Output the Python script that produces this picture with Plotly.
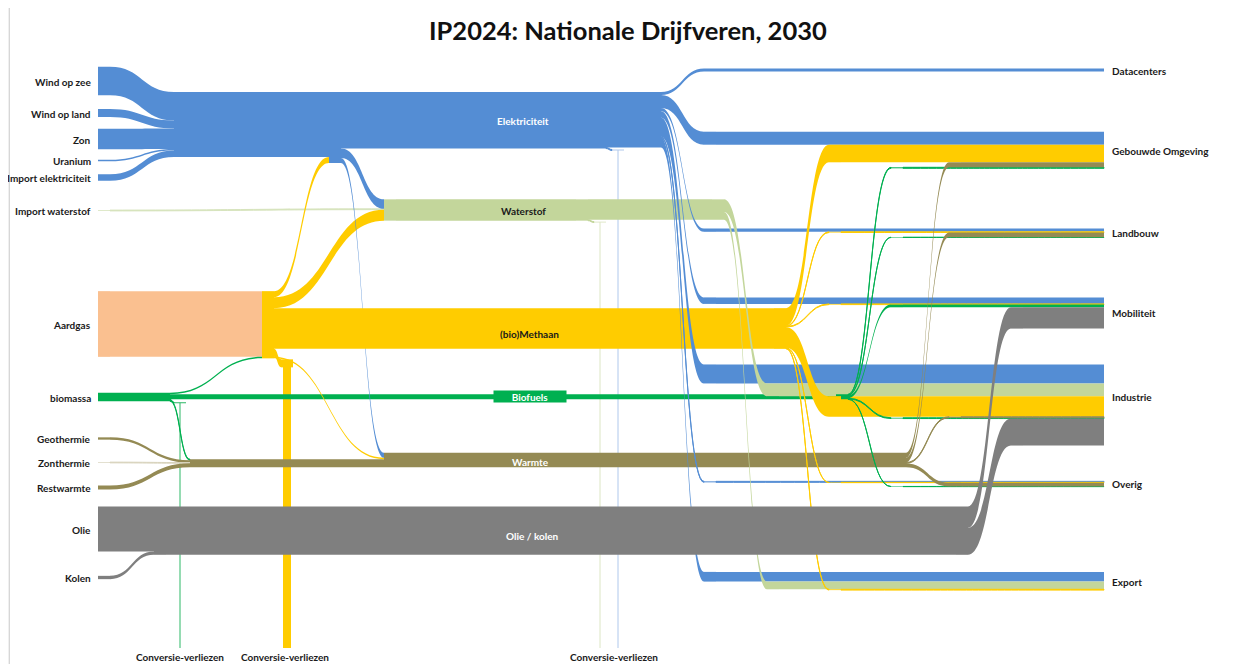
import plotly.graph_objects as go

# page is 1236x664; the browser's default 8px body margin shifts the figure
PAGE_W, PAGE_H = 1236, 664
OFF = 8
FIG_W, FIG_H = PAGE_W - OFF, PAGE_H - OFF

# ------------------------------------------------------------------ data (PJ)
sources = ["Wind op zee", "Wind op land", "Zon", "Uranium", "Import elektriciteit",
           "Import waterstof", "Aardgas", "biomassa", "Geothermie", "Zonthermie",
           "Restwarmte", "Olie", "Kolen"]
carriers = ["Elektriciteit", "Waterstof", "(bio)Methaan", "Biofuels", "Warmte", "Olie / kolen"]
sectors = ["Datacenters", "Gebouwde Omgeving", "Landbouw", "Mobiliteit", "Industrie",
           "Overig", "Export"]
losses = ["Conversie-verliezen (biomassa)", "Conversie-verliezen (aardgas)",
          "Conversie-verliezen (waterstof)", "Conversie-verliezen (elektriciteit)"]
loss_label = "Conversie-verliezen"

supply_from = ["Wind op zee", "Wind op land", "Zon", "Uranium", "Import elektriciteit",
               "Import waterstof", "Aardgas", "biomassa", "biomassa", "biomassa", "biomassa",
               "Geothermie", "Zonthermie", "Restwarmte", "Olie", "Kolen"]
supply_to = ["Elektriciteit", "Elektriciteit", "Elektriciteit", "Elektriciteit", "Elektriciteit",
             "Waterstof", "(bio)Methaan", "(bio)Methaan", "Biofuels", "Warmte",
             "Conversie-verliezen (biomassa)", "Warmte", "Warmte", "Warmte",
             "Olie / kolen", "Olie / kolen"]
supply_pj = [285, 80, 205, 15, 65, 8, 657, 15, 50, 10, 10, 23, 7, 40, 450, 33]

conversion_from = ["(bio)Methaan", "(bio)Methaan", "(bio)Methaan", "(bio)Methaan",
                   "Elektriciteit", "Elektriciteit", "Elektriciteit", "Waterstof"]
conversion_to = ["Elektriciteit", "Waterstof", "Warmte", "Conversie-verliezen (aardgas)",
                 "Waterstof", "Warmte", "Conversie-verliezen (elektriciteit)",
                 "Conversie-verliezen (waterstof)"]
conversion_pj = [60, 110, 15, 80, 95, 50, 10, 9]

# final use per carrier, in the order of `sectors`
elektriciteit_use = [30, 130, 33, 65, 190, 10, 97]
waterstof_use = [0, 0, 0, 0, 127, 0, 77]
methaan_use = [0, 176, 7, 7, 206, 3, 8]
biofuels_use = [0, 10, 3, 27, 8, 2, 0]
warmte_use = [0, 50, 47, 0, 10, 38, 0]
olie_kolen_use = [0, 0, 0, 213, 270, 0, 0]

# ------------------------------------------------------------------ styling / layout (page pixels)
CARRIER_COLOR = {"Elektriciteit": "#548DD4", "Waterstof": "#C3D69B", "(bio)Methaan": "#FFCC00",
                 "Biofuels": "#00B050", "Warmte": "#948A54", "Olie / kolen": "#7F7F7F"}
SOURCE_COLOR = {"Wind op zee": "#548DD4", "Wind op land": "#548DD4", "Zon": "#548DD4",
                "Uranium": "#548DD4", "Import elektriciteit": "#548DD4",
                "Import waterstof": "#D7E4BD", "Aardgas": "#FAC090", "biomassa": "#00B050",
                "Geothermie": "#948A54", "Zonthermie": "#D8D3BC", "Restwarmte": "#948A54",
                "Olie": "#7F7F7F", "Kolen": "#7F7F7F"}
LOSS_COLOR = {"Conversie-verliezen (biomassa)": "#2DB866",
              "Conversie-verliezen (aardgas)": "#FFCC00",
              "Conversie-verliezen (waterstof)": "#DCE6C4",
              "Conversie-verliezen (elektriciteit)": "#AFC8EC"}
CLEAR = "rgba(0,0,0,0)"
PX_PER_PJ = 0.1
PAD_TARGET = 20
THICK = 12
X_SOURCE = 104
MERGE_X = {"Elektriciteit": 180, "Warmte": 196}   # where several sources join a carrier
SPLIT_X = {"biomassa": 164}                        # where a source branches out
X_CARRIER_IN = {"Elektriciteit": 335, "Waterstof": 390, "(bio)Methaan": 268,
                "Biofuels": 555, "Warmte": 390, "Olie / kolen": 160}
MID_X = {"Elektriciteit": 600, "Waterstof": 582}   # where conversion losses branch off
X_CARRIER_OUT = {"Elektriciteit": 655, "Waterstof": 718, "(bio)Methaan": 780,
                 "Biofuels": 842, "Warmte": 900, "Olie / kolen": 962}
TURN = 55                      # horizontal run of each bend towards a sector
X_SECTOR = 1110
X_LOSS = [180, 287, 600, 618]
X_LOSS_LABEL = [180, 285, 614]
Y_SOURCE = [81, 113, 139, 160.5, 177.5, 210.5, 324, 397, 438.5, 462.5, 487.5, 529, 577.5]
Y_SECTOR = [70, 150, 233, 313, 405, 484, 581]
Y_SECTOR_LABEL = [71, 151, 233, 313, 397, 484, 582]
ORDER_AT_SECTOR = ["Elektriciteit", "Waterstof", "(bio)Methaan", "Warmte", "Biofuels",
                   "Olie / kolen"]
LOSS_BOTTOM = 648
ELEK_TOP = 92
Y_WATERSTOF = 210
Y_WARMTE = 460
CARRIER_LABEL = {"Elektriciteit": (523, 121, "white"), "Waterstof": (523, 211, "#1a1a1a"),
                 "(bio)Methaan": (529, 334, "#1a1a1a"), "Biofuels": (530, 396, "white"),
                 "Warmte": (530, 462, "white"), "Olie / kolen": (532, 536, "white")}
FONT = "Lato"


def fx(px):
    return (px - OFF) / FIG_W


def fy(py):  # fraction from top
    return (py - OFF) / FIG_H


def h(v):
    return v * PX_PER_PJ


# ------------------------------------------------------------------ build the sankey
use = dict(zip(carriers, [elektriciteit_use, waterstof_use, methaan_use, biofuels_use,
                          warmte_use, olie_kolen_use]))


def n_in(c): return "in|" + c
def n_mid(c): return "mid|" + c
def n_out(c): return "out|" + c
def n_merge(c): return "merge|" + c
def n_split(s): return "split|" + s
def n_bend(c, s): return "bend|" + c + " → " + s
def n_any(name): return n_in(name) if name in carriers else name


SCALE_A, SCALE_B = "scale|a", "scale|b"    # invisible pair that fixes the px-per-PJ scale
bends = [(c, s) for c in carriers for s, v in zip(sectors, use[c]) if v > 0]
node_ids = (list(sources) + [n_split(s) for s in SPLIT_X] + [n_merge(c) for c in MERGE_X]
            + [n_in(c) for c in carriers] + [n_mid(c) for c in MID_X]
            + [n_out(c) for c in carriers] + [n_bend(c, s) for c, s in bends]
            + sectors + losses + [SCALE_A, SCALE_B])
idx = {n: i for i, n in enumerate(node_ids)}

L_src, L_tgt, L_val, L_col = [], [], [], []


def add(a, b, v, col):
    L_src.append(idx[a]); L_tgt.append(idx[b]); L_val.append(v); L_col.append(col)


# supply
merge_total = {c: 0 for c in MERGE_X}
for f, t, v in zip(supply_from, supply_to, supply_pj):
    start = n_split(f) if f in SPLIT_X else f
    if t in MERGE_X:
        add(start, n_merge(t), v, SOURCE_COLOR[f])
        merge_total[t] += v
    else:
        add(start, n_any(t), v, SOURCE_COLOR[f])
for s in SPLIT_X:
    add(s, n_split(s), sum(v for f, v in zip(supply_from, supply_pj) if f == s), SOURCE_COLOR[s])
for c in MERGE_X:
    add(n_merge(c), n_in(c), merge_total[c], CARRIER_COLOR[c])
# conversion
mid_loss = {c: 0 for c in MID_X}
for f, t, v in zip(conversion_from, conversion_to, conversion_pj):
    if t in losses and f in MID_X:
        add(n_mid(f), t, v, CARRIER_COLOR[f])
        mid_loss[f] += v
    else:
        add(n_in(f), n_any(t), v, CARRIER_COLOR[f])
# through-flows of the carrier blocks
for c in carriers:
    if c == "Olie / kolen":
        continue
    if c in MID_X:
        add(n_in(c), n_mid(c), sum(use[c]) + mid_loss[c], CARRIER_COLOR[c])
        add(n_mid(c), n_out(c), sum(use[c]), CARRIER_COLOR[c])
    else:
        add(n_in(c), n_out(c), sum(use[c]), CARRIER_COLOR[c])
# final use: horizontal runs into the sectors, then the bends
for c, s in bends:
    add(n_bend(c, s), s, use[c][sectors.index(s)], CARRIER_COLOR[c])
for c, s in bends:
    add(n_out(c), n_bend(c, s), use[c][sectors.index(s)], CARRIER_COLOR[c])
# the oil / coal band is drawn on top
add(n_in("Olie / kolen"), n_out("Olie / kolen"), sum(use["Olie / kolen"]),
    CARRIER_COLOR["Olie / kolen"])
# scale pair (value set below)
add(SCALE_A, SCALE_B, 1, CLEAR)

nn = len(node_ids)


def totals():
    inf = {n: 0 for n in node_ids}
    outf = {n: 0 for n in node_ids}
    for s, t, v in zip(L_src, L_tgt, L_val):
        outf[node_ids[s]] += v
        inf[node_ids[t]] += v
    return inf, outf


# columns as d3-sankey ('justify') builds them
targets_of = {i: [] for i in range(nn)}
for s, t in zip(L_src, L_tgt):
    targets_of[s].append(t)
depth = [0] * nn
current, x = set(range(nn)), 0
while current:
    nxt = set()
    for i in current:
        depth[i] = x
        nxt.update(targets_of[i])
    current, x = nxt, x + 1
ncol = x
col_of = [depth[i] if targets_of[i] else ncol - 1 for i in range(nn)]
inflow, outflow = totals()
col_n, col_sum = {}, {}
for i, n in enumerate(node_ids):
    col_n[col_of[i]] = col_n.get(col_of[i], 0) + 1
    if n not in (SCALE_A, SCALE_B):
        col_sum[col_of[i]] = col_sum.get(col_of[i], 0) + max(inflow[n], outflow[n])
L_max = max(col_n.values())
pad = min(PAD_TARGET, 2 / 3 * FIG_H / (L_max - 1) - 0.5)
scale_cols = (col_of[idx[SCALE_A]], col_of[idx[SCALE_B]])
scale_value = min((FIG_H - (col_n[c] - 1) * pad) / PX_PER_PJ - col_sum.get(c, 0)
                  for c in scale_cols)
L_val[-1] = scale_value
inflow, outflow = totals()


def val(n):
    return max(inflow[n], outflow[n])


# ------------------------------------------------------------------ node positions
xs, ys = {}, {}
for s, yy in zip(sources, Y_SOURCE):
    xs[s], ys[s] = X_SOURCE, yy
for s in SPLIT_X:
    xs[n_split(s)], ys[n_split(s)] = SPLIT_X[s], Y_SOURCE[sources.index(s)]
for c in carriers:
    xs[n_in(c)] = X_CARRIER_IN[c]
    xs[n_out(c)] = X_CARRIER_OUT[c]
for c in MID_X:
    xs[n_mid(c)] = MID_X[c]
for c in MERGE_X:
    xs[n_merge(c)] = MERGE_X[c]
# electricity: sources merge at the top of the block
for n in (n_merge("Elektriciteit"), n_in("Elektriciteit"), n_mid("Elektriciteit"),
          n_out("Elektriciteit")):
    ys[n] = ELEK_TOP + h(val(n)) / 2
# hydrogen block: through-flow on top of its mid node
ys[n_in("Waterstof")] = ys[n_mid("Waterstof")] = Y_WATERSTOF
h2_top = Y_WATERSTOF - h(val(n_in("Waterstof"))) / 2
ys[n_out("Waterstof")] = h2_top + h(val(n_out("Waterstof"))) / 2
# heat: ambient sources merge at the bottom of the block
ys[n_in("Warmte")] = ys[n_out("Warmte")] = Y_WARMTE
ys[n_merge("Warmte")] = Y_WARMTE + h(val(n_in("Warmte"))) / 2 - h(val(n_merge("Warmte"))) / 2
# methane hub continues the natural-gas band
gas_top = Y_SOURCE[sources.index("Aardgas")] - h(val("Aardgas")) / 2
ys[n_in("(bio)Methaan")] = gas_top + h(val(n_in("(bio)Methaan"))) / 2
above = sum(v for f, t, v in zip(conversion_from, conversion_to, conversion_pj)
            if f == "(bio)Methaan" and t in ("Elektriciteit", "Waterstof"))
ys[n_out("(bio)Methaan")] = gas_top + h(above) + h(val(n_out("(bio)Methaan"))) / 2
# biofuels continue the biomass band
bio_top = Y_SOURCE[sources.index("biomassa")] - h(val("biomassa")) / 2
bio_to_gas = sum(v for f, t, v in zip(supply_from, supply_to, supply_pj)
                 if f == "biomassa" and t == "(bio)Methaan")
ys[n_in("Biofuels")] = ys[n_out("Biofuels")] = (bio_top + h(bio_to_gas)
                                                 + h(val(n_in("Biofuels"))) / 2)
# oil / coal continues the oil band
oil_top = Y_SOURCE[sources.index("Olie")] - h(val("Olie")) / 2
ys[n_in("Olie / kolen")] = ys[n_out("Olie / kolen")] = oil_top + h(val(n_in("Olie / kolen"))) / 2
# sectors and the bends feeding them (stacked in ORDER_AT_SECTOR)
for i, (s, yy) in enumerate(zip(sectors, Y_SECTOR)):
    xs[s], ys[s] = X_SECTOR, yy
    top = yy - h(val(s)) / 2
    cum = 0
    for c in ORDER_AT_SECTOR:
        v = use[c][i]
        if v > 0:
            xs[n_bend(c, s)] = X_CARRIER_OUT[c] + TURN
            ys[n_bend(c, s)] = top + h(cum) + h(v) / 2
            cum += v
# loss nodes sit just below the node they branch from
branch_bottom = {
    losses[0]: bio_top + h(val("biomassa")),
    losses[1]: gas_top + h(val(n_in("(bio)Methaan"))),
    losses[2]: h2_top + h(val(n_mid("Waterstof"))),
    losses[3]: ELEK_TOP + h(val(n_mid("Elektriciteit"))),
}
for l, xx in zip(losses, X_LOSS):
    xs[l], ys[l] = xx, branch_bottom[l] + h(val(l)) / 2 + 1
# the scale pair lives outside the visible area
xs[SCALE_A], ys[SCALE_A] = PAGE_W + 300, PAGE_H / 2
xs[SCALE_B], ys[SCALE_B] = PAGE_W + 500, PAGE_H / 2

node_color = []
for n in node_ids:
    if n in sources:
        node_color.append(SOURCE_COLOR[n])
    elif n.startswith("split|"):
        node_color.append(SOURCE_COLOR[n.split("|", 1)[1]])
    elif n.split("|", 1)[0] in ("in", "mid", "out", "merge"):
        node_color.append(CARRIER_COLOR[n.split("|", 1)[1]])
    elif n.startswith("bend|"):
        node_color.append(CARRIER_COLOR[n.split("|", 1)[1].split(" → ")[0]])
    elif n in losses:
        node_color.append(LOSS_COLOR[n])
    else:
        node_color.append(CLEAR)

names = [("" if n.startswith("scale|") else n.split("|", 1)[-1]) for n in node_ids]

fig = go.Figure()
# vertical drops of the conversion losses (width follows the loss value)
for l in losses:
    fig.add_trace(go.Scatter(
        x=[xs[l], xs[l]], y=[ys[l], LOSS_BOTTOM], mode="lines",
        line=dict(color=LOSS_COLOR[l], width=max(h(val(l)), 1)),
        hoverinfo="skip", showlegend=False))

fig.add_trace(go.Sankey(
    arrangement="fixed",
    domain=dict(x=[0, 1], y=[0, 1]),
    node=dict(label=[""] * nn,
              x=[fx(xs[n]) for n in node_ids],
              y=[fy(ys[n]) for n in node_ids],
              color=node_color, pad=pad, thickness=THICK,
              line=dict(width=0),
              customdata=names,
              hovertemplate="%{customdata}: %{value} PJ<extra></extra>"),
    link=dict(source=L_src, target=L_tgt, value=L_val, color=L_col,
              hovertemplate="%{source.customdata} → %{target.customdata}: %{value} PJ<extra></extra>"),
))

ann = []


def label(text, x, y, anchor="center", color="#1a1a1a", size=10, box=None):
    d = dict(text="<b>%s</b>" % text, x=fx(x), y=1 - fy(y), xref="paper", yref="paper",
             xanchor=anchor, yanchor="middle", showarrow=False,
             font=dict(family=FONT, size=size, color=color))
    if box:
        d.update(bgcolor=box, borderpad=0, width=72, height=11)
    ann.append(d)


for s, yy in zip(sources, Y_SOURCE):
    label(s, 93, yy + 0.5, anchor="right")
for s, yy in zip(sectors, Y_SECTOR_LABEL):
    label(s, 1110, yy, anchor="left")
for c, (lx, ly, lc) in CARRIER_LABEL.items():
    label(c, lx, ly, color=lc, size=10,
          box=CARRIER_COLOR[c] if c == "Biofuels" else None)
for xx in X_LOSS_LABEL:
    label(loss_label, xx, 657, size=10)
ann.append(dict(text="<b>IP2024: Nationale Drijfveren, 2030</b>", x=fx(628), y=1 - fy(30),
                xref="paper", yref="paper", xanchor="center", yanchor="middle", showarrow=False,
                font=dict(family=FONT, size=25.5, color="#111111")))

fig.update_layout(
    width=FIG_W, height=FIG_H,
    margin=dict(l=0, r=0, t=0, b=0, pad=0),
    paper_bgcolor="white", plot_bgcolor="white",
    font=dict(family=FONT, color="#1a1a1a"),
    xaxis=dict(range=[OFF, PAGE_W], visible=False, fixedrange=True, domain=[0, 1]),
    yaxis=dict(range=[PAGE_H, OFF], visible=False, fixedrange=True, domain=[0, 1]),
    annotations=ann,
    shapes=[dict(type="line", xref="paper", yref="paper", x0=0.001, x1=0.001, y0=0, y1=1,
                 line=dict(color="#C8C8C8", width=1))],
)

fig.write_html("out.html")
